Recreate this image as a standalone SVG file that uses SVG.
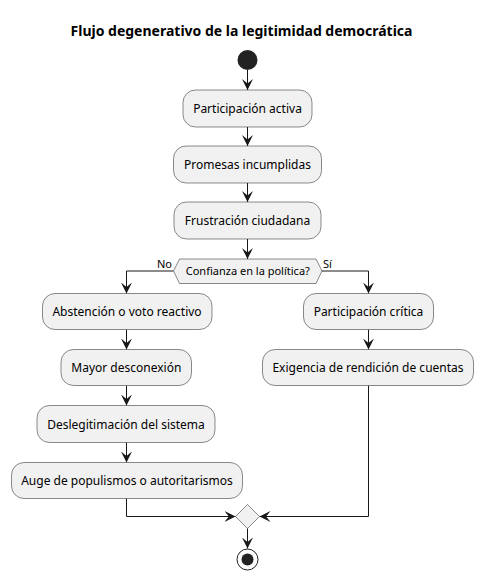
<svg xmlns="http://www.w3.org/2000/svg" width="483" height="580" viewBox="0 0 483 580">
<defs>
<marker id="ah" markerUnits="userSpaceOnUse" markerWidth="11" markerHeight="11" refX="10" refY="5" orient="auto" viewBox="0 0 10 10">
<path d="M0,0 L10,5 L0,10 L4,5 z" fill="#181818"/>
</marker>
<style>
text{font-family:"Noto Sans","DejaVu Sans",sans-serif;fill:#000}
.box{fill:#F1F1F1;stroke:#181818;stroke-width:0.5}
.t{font-size:12px;text-anchor:middle}
.s{font-size:11px}
.ln{fill:none;stroke:#181818;stroke-width:1}
.arr{marker-end:url(#ah)}
</style>
</defs>
<rect width="483" height="580" fill="#FFFFFF"/>
<text x="241.5" y="36" style="font-size:14px;font-weight:bold" text-anchor="middle">Flujo degenerativo de la legitimidad democrática</text>

<g id="connectors">
<line class="ln arr" x1="247.5" y1="70" x2="247.5" y2="90"/>
<line class="ln arr" x1="247.5" y1="127" x2="247.5" y2="146"/>
<line class="ln arr" x1="247.5" y1="183" x2="247.5" y2="202"/>
<line class="ln arr" x1="247.5" y1="239" x2="247.5" y2="259"/>
<polyline class="ln arr" points="173.5,271 126.5,271 126.5,293.5"/>
<polyline class="ln arr" points="321.5,271 368.5,271 368.5,293.5"/>
<line class="ln arr" x1="126.5" y1="329.5" x2="126.5" y2="349.5"/>
<line class="ln arr" x1="126.5" y1="385.5" x2="126.5" y2="405.5"/>
<line class="ln arr" x1="126.5" y1="442.5" x2="126.5" y2="462.5"/>
<line class="ln arr" x1="368.5" y1="329.5" x2="368.5" y2="349.5"/>
<polyline class="ln arr" points="126.5,498.5 126.5,516.5 235.5,516.5"/>
<polyline class="ln arr" points="368.5,385.5 368.5,516.5 259.5,516.5"/>
<line class="ln arr" x1="247.5" y1="528.5" x2="247.5" y2="548.5"/>
<text class="s" x="172" y="268" text-anchor="end">No</text>
<text class="s" x="323" y="268">Sí</text>
</g>

<g id="start"><circle cx="247.5" cy="60" r="10" fill="#222222"/></g>

<g id="n1"><rect class="box" x="183" y="90" width="129" height="37" rx="12.5"/><text class="t" x="247.5" y="113">Participación activa</text></g>
<g id="n2"><rect class="box" x="173.5" y="146" width="148" height="37" rx="12.5"/><text class="t" x="247.5" y="169">Promesas incumplidas</text></g>
<g id="n3"><rect class="box" x="174" y="202" width="147" height="37" rx="12.5"/><text class="t" x="247.5" y="225">Frustración ciudadana</text></g>
<g id="decision"><polygon class="box" points="173.5,271 179.5,259 316,259 322,271 316,283.5 179.5,283.5"/><text class="s" x="247.8" y="275" text-anchor="middle">Confianza en la política?</text></g>

<g id="n4"><rect class="box" x="42.5" y="293.5" width="169.5" height="36" rx="12.5"/><text class="t" x="127" y="316">Abstención o voto reactivo</text></g>
<g id="n5"><rect class="box" x="61" y="349.5" width="130.5" height="36" rx="12.5"/><text class="t" x="126.3" y="372">Mayor desconexión</text></g>
<g id="n6"><rect class="box" x="37" y="405.5" width="178" height="37" rx="12.5"/><text class="t" x="126" y="428.5">Deslegitimación del sistema</text></g>
<g id="n7"><rect class="box" x="11.5" y="462.5" width="231" height="36" rx="12.5"/><text class="t" x="127" y="485">Auge de populismos o autoritarismos</text></g>

<g id="n8"><rect class="box" x="303.5" y="293.5" width="130" height="36" rx="12.5"/><text class="t" x="368.5" y="316">Participación crítica</text></g>
<g id="n9"><rect class="box" x="262.5" y="349.5" width="211" height="36" rx="12.5"/><text class="t" x="368" y="372">Exigencia de rendición de cuentas</text></g>

<g id="merge"><polygon class="box" points="247.5,504.5 259.5,516.5 247.5,528.5 235.5,516.5"/></g>

<g id="end"><circle cx="247.5" cy="559.5" r="10.5" fill="none" stroke="#222222" stroke-width="1"/><circle cx="247.5" cy="559.5" r="6" fill="#222222"/></g>
</svg>
